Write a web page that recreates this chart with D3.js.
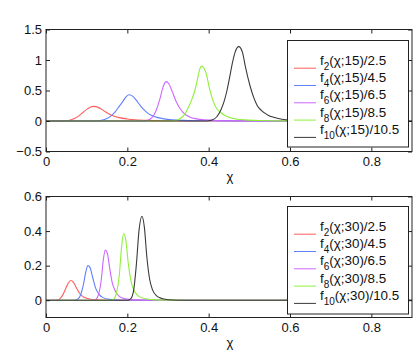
<!DOCTYPE html>
<html>
<head>
<meta charset="utf-8">
<script src="https://cdn.jsdelivr.net/npm/d3@7"></script>
<style>
  body { margin: 0; background: #fff; }
  svg { display: block; font-family: "Liberation Sans", Arial, Helvetica, sans-serif; }
</style>
</head>
<body>
<svg id="chart" width="415" height="350"></svg>
<script>
// values
var xTicks = [0, 0.2, 0.4, 0.6, 0.8]
var yTicksTop = [-0.5, 0, 0.5, 1, 1.5]
var yTicksBottom = [0, 0.2, 0.4, 0.6]
var colors = ["#ff5c5c", "#6080ff", "#cc66ff", "#8ef03a", "#3a3a3a"]
var subs = ["2", "4", "6", "8", "10"]
var tailsTop = ["(χ;15)/2.5", "(χ;15)/4.5", "(χ;15)/6.5", "(χ;15)/8.5", "(χ;15)/10.5"]
var tailsBottom = ["(χ;30)/2.5", "(χ;30)/4.5", "(χ;30)/6.5", "(χ;30)/8.5", "(χ;30)/10.5"]

// chi = 15
var f2_15 = [[0,0],[0.04,0],[0.05,0.003],[0.06,0.015],[0.07,0.04],[0.08,0.08],[0.09,0.135],[0.1,0.19],[0.11,0.228],[0.117,0.24],[0.125,0.232],[0.135,0.2],[0.145,0.155],[0.155,0.115],[0.165,0.085],[0.18,0.055],[0.2,0.033],[0.22,0.02],[0.25,0.01],[0.3,0.004],[0.35,0.001],[0.4,0],[0.9,0]]
var f4_15 = [[0,0],[0.12,0],[0.13,0.004],[0.14,0.015],[0.15,0.04],[0.16,0.085],[0.17,0.15],[0.18,0.24],[0.19,0.33],[0.198,0.405],[0.204,0.43],[0.21,0.42],[0.22,0.36],[0.23,0.27],[0.24,0.19],[0.25,0.13],[0.26,0.09],[0.275,0.055],[0.29,0.035],[0.31,0.02],[0.34,0.01],[0.4,0.003],[0.5,0],[0.9,0]]
var f6_15 = [[0,0],[0.24,0],[0.25,0.01],[0.26,0.05],[0.27,0.16],[0.28,0.36],[0.288,0.56],[0.295,0.645],[0.302,0.61],[0.31,0.49],[0.32,0.32],[0.33,0.2],[0.34,0.12],[0.355,0.06],[0.37,0.035],[0.39,0.018],[0.42,0.008],[0.5,0.002],[0.6,0],[0.9,0]]
var f8_15 = [[0,0],[0.3,0],[0.32,0.01],[0.33,0.04],[0.34,0.1],[0.35,0.22],[0.36,0.38],[0.366,0.5],[0.372,0.67],[0.378,0.85],[0.383,0.9],[0.389,0.86],[0.395,0.75],[0.402,0.53],[0.412,0.31],[0.42,0.2],[0.43,0.14],[0.44,0.09],[0.455,0.05],[0.47,0.03],[0.49,0.018],[0.53,0.008],[0.6,0.002],[0.65,0],[0.9,0]]
var f10_15 = [[0,0],[0.39,0],[0.4,0.005],[0.41,0.02],[0.42,0.07],[0.43,0.18],[0.437,0.3],[0.445,0.5],[0.452,0.73],[0.458,0.94],[0.465,1.13],[0.474,1.22],[0.483,1.13],[0.49,0.9],[0.502,0.57],[0.51,0.4],[0.519,0.26],[0.53,0.17],[0.545,0.1],[0.56,0.06],[0.58,0.03],[0.6,0.015],[0.65,0.004],[0.7,0],[0.9,0]]

// chi = 30
var f2_30 = [[0,0],[0.025,0],[0.032,0.005],[0.04,0.025],[0.048,0.065],[0.055,0.1],[0.061,0.114],[0.067,0.105],[0.074,0.075],[0.082,0.042],[0.09,0.022],[0.1,0.011],[0.115,0.004],[0.14,0.001],[0.2,0],[0.9,0]]
var f4_30 = [[0,0],[0.07,0],[0.078,0.005],[0.085,0.03],[0.092,0.09],[0.098,0.165],[0.103,0.2],[0.108,0.19],[0.115,0.13],[0.122,0.07],[0.13,0.035],[0.14,0.015],[0.155,0.005],[0.18,0.001],[0.25,0],[0.9,0]]
var f6_30 = [[0,0],[0.115,0],[0.122,0.005],[0.13,0.04],[0.136,0.12],[0.141,0.235],[0.146,0.29],[0.151,0.27],[0.157,0.18],[0.163,0.1],[0.17,0.055],[0.18,0.022],[0.195,0.008],[0.22,0.002],[0.3,0],[0.9,0]]
var f8_30 = [[0,0],[0.16,0],[0.167,0.008],[0.174,0.05],[0.18,0.14],[0.186,0.31],[0.191,0.386],[0.196,0.35],[0.203,0.2],[0.21,0.1],[0.218,0.05],[0.228,0.022],[0.245,0.008],[0.27,0.002],[0.35,0],[0.9,0]]
var f10_30 = [[0,0],[0.2,0],[0.208,0.008],[0.215,0.05],[0.222,0.2],[0.229,0.41],[0.236,0.486],[0.242,0.42],[0.248,0.25],[0.255,0.12],[0.262,0.06],[0.272,0.025],[0.285,0.01],[0.3,0.003],[0.35,0],[0.9,0]]

var svg = d3.select("#chart")

function drawPanel(top, bottom, ydom, yTicks, curves, tails, legBox) {
    var left = 46, right = 412
    var x = d3.scaleLinear().domain([0, 0.9]).range([left, right])
    var y = d3.scaleLinear().domain(ydom).range([bottom, top])
    var g = svg.append("g")

    var clipId = "clip" + top
    g.append("clipPath").attr("id", clipId).append("rect")
        .attr("x", left).attr("y", top).attr("width", right - left).attr("height", bottom - top)

    var line = d3.line().x(d => x(d[0])).y(d => y(d[1])).curve(d3.curveMonotoneX)
    g.append("g").attr("clip-path", "url(#" + clipId + ")")
        .selectAll("path").data(curves).enter().append("path")
        .attr("d", d => line(d))
        .attr("fill", "none")
        .attr("stroke", (d, i) => colors[i])
        .attr("stroke-width", 1.1)

    var fmt = d => d3.format("")(d).replace("-", "\u2212")

    g.append("g").attr("transform", `translate(0,${bottom})`)
        .call(d3.axisBottom(x).tickValues(xTicks).tickSize(-4).tickSizeOuter(0).tickPadding(5).tickFormat(fmt))
    g.append("g").attr("transform", `translate(0,${top})`)
        .call(d3.axisTop(x).tickValues(xTicks).tickSize(-4).tickSizeOuter(0).tickFormat(""))
    g.append("g").attr("transform", `translate(${left},0)`)
        .call(d3.axisLeft(y).tickValues(yTicks).tickSize(-4).tickSizeOuter(0).tickPadding(4).tickFormat(fmt))
    g.append("g").attr("transform", `translate(${right},0)`)
        .call(d3.axisRight(y).tickValues(yTicks).tickSize(-4).tickSizeOuter(0).tickFormat(""))

    g.selectAll(".domain").remove()
    g.selectAll(".tick line").attr("stroke", "#222")
    g.selectAll(".tick text").attr("font-size", 13).attr("fill", "#111")
        .attr("font-family", "'Liberation Sans', Arial, sans-serif")

    g.append("rect").attr("x", left).attr("y", top)
        .attr("width", right - left).attr("height", bottom - top)
        .attr("fill", "none").attr("stroke", "#222").attr("stroke-width", 1)

    g.append("text").attr("x", (left + right) / 2 + 1).attr("y", bottom + 29)
        .attr("text-anchor", "middle").attr("font-size", 13).attr("fill", "#111").text("χ")

    // legend
    var leg = g.append("g")
    leg.append("rect").attr("x", legBox.x).attr("y", legBox.y)
        .attr("width", legBox.w).attr("height", legBox.h)
        .attr("fill", "#fff").attr("stroke", "#222").attr("stroke-width", 1)
    var rows = leg.selectAll(".row").data(tails).enter().append("g")
        .attr("transform", (d, i) => `translate(0,${legBox.y + 27.7 + i * 17.3})`)
    rows.append("line").attr("x1", 294).attr("x2", 316).attr("y1", 0).attr("y2", 0)
        .attr("stroke", (d, i) => colors[i]).attr("stroke-width", 1)
    var t = rows.append("text").attr("x", 320).attr("y", -3.5)
        .attr("font-size", 13.4).attr("fill", "#111")
    t.append("tspan").text("f")
    t.append("tspan").attr("dy", 5).attr("font-size", 10).text((d, i) => subs[i])
    t.append("tspan").attr("dy", -5).text(d => d)
}

drawPanel(29.5, 151.5, [-0.5, 1.5], yTicksTop, [f2_15, f4_15, f6_15, f8_15, f10_15], tailsTop,
    {x: 287.5, y: 40.5, w: 121, h: 106.5})
drawPanel(196.5, 317.5, [-0.1, 0.6], yTicksBottom, [f2_30, f4_30, f6_30, f8_30, f10_30], tailsBottom,
    {x: 287.5, y: 206.5, w: 121, h: 107.5})
</script>
</body>
</html>
